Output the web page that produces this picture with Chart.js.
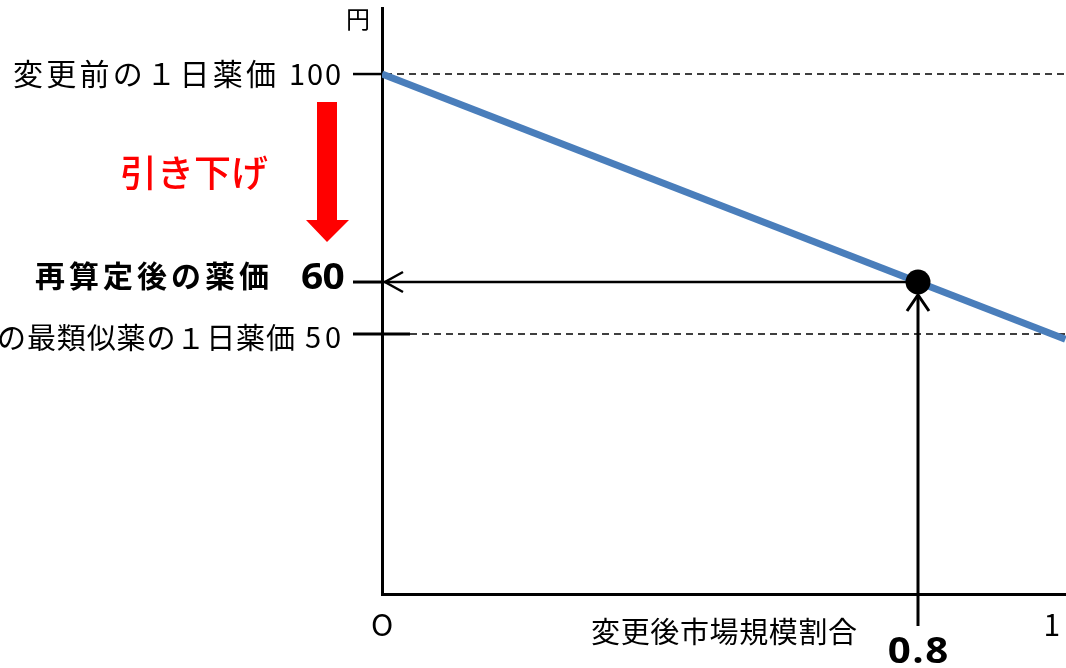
<!DOCTYPE html>
<html lang="ja">
<head>
<meta charset="utf-8">
<title>再算定後の薬価</title>
<script src="https://cdn.jsdelivr.net/npm/chart.js@4.4.1/dist/chart.umd.min.js"></script>
<style>
  html, body { margin: 0; padding: 0; background: #ffffff; overflow: hidden; }
  #wrap { position: relative; width: 1066px; height: 668px; }
</style>
</head>
<body>
<div id="wrap"><canvas id="c" width="1066" height="668"></canvas></div>
<script>
// ---- data ----
const shareValues = [0, 1.02];          // 変更後市場規模割合 (x)
const priceValues = [100, 49];          // 1日薬価 (y) along the line
const revisedShare = 0.8;               // marked share
const revisedPrice = 60;                // 再算定後の薬価
const priceBefore = 100;                // 変更前の1日薬価
const similarPrice = 50;                // 最類似薬の1日薬価
const xTickValues = [0, 1];
const xTickLabels = ['O', '1'];
const xRange = [0, 1.0209];
const yRange = [0, 112.7];

const JP = '"Noto Sans CJK JP", "Noto Sans", sans-serif';
const NUM_BOLD = '"Open Sans", Lato, sans-serif';

// draw text whose ink spans from left to right, vertically centred on cy;
// sx stretches each glyph horizontally
function drawFit(ctx, text, left, right, cy, font, color, sx) {
  sx = sx || 1;
  ctx.save();
  ctx.font = font;
  ctx.fillStyle = color;
  ctx.textAlign = 'left';
  ctx.textBaseline = 'alphabetic';
  const chars = Array.from(text);
  const whole = ctx.measureText(text);
  const base = cy + (whole.actualBoundingBoxAscent - whole.actualBoundingBoxDescent) / 2;
  const ms = chars.map(ch => ctx.measureText(ch));
  const first = ms[0], last = ms[ms.length - 1];
  let sumAdv = 0;
  for (let i = 0; i < ms.length - 1; i++) sumAdv += ms[i].width * sx;
  const natural = sumAdv + (last.actualBoundingBoxRight + first.actualBoundingBoxLeft) * sx;
  const gap = chars.length > 1 ? ((right - left) - natural) / (chars.length - 1) : 0;
  let x = left + first.actualBoundingBoxLeft * sx;
  chars.forEach((ch, i) => {
    ctx.save();
    ctx.translate(x, base);
    ctx.scale(sx, 1);
    ctx.fillText(ch, 0, 0);
    ctx.restore();
    x += ms[i].width * sx + gap;
  });
  ctx.restore();
}

function drawCentered(ctx, text, cx, cy, font, color) {
  ctx.save();
  ctx.font = font;
  ctx.fillStyle = color;
  ctx.textAlign = 'left';
  ctx.textBaseline = 'alphabetic';
  const m = ctx.measureText(text);
  const inkW = m.actualBoundingBoxLeft + m.actualBoundingBoxRight;
  const x = cx - inkW / 2 + m.actualBoundingBoxLeft;
  const base = cy + (m.actualBoundingBoxAscent - m.actualBoundingBoxDescent) / 2;
  ctx.fillText(text, x, base);
  ctx.restore();
}

function line(ctx, x1, y1, x2, y2, w, dash) {
  ctx.save();
  ctx.strokeStyle = '#000';
  ctx.lineWidth = w;
  ctx.setLineDash(dash || []);
  ctx.beginPath();
  ctx.moveTo(x1, y1);
  ctx.lineTo(x2, y2);
  ctx.stroke();
  ctx.restore();
}

const diagram = {
  id: 'diagram',
  beforeDatasetsDraw(chart) {
    const { ctx, chartArea, scales: { x, y } } = chart;
    const ax = x.getPixelForValue(0);
    const yTop = y.getPixelForValue(priceBefore);
    const yRev = y.getPixelForValue(revisedPrice);
    const ySim = y.getPixelForValue(similarPrice);
    const px = x.getPixelForValue(revisedShare);

    // reference lines
    line(ctx, ax - 29, yTop, ax, yTop, 2.5);
    line(ctx, ax + 3, yTop, chartArea.right, yTop, 1.5, [7, 5]);
    line(ctx, ax - 29, yRev, ax, yRev, 3);
    line(ctx, ax - 29, ySim, ax + 28, ySim, 3);
    line(ctx, ax + 28, ySim, chartArea.right, ySim, 1.5, [7, 5]);

    // arrow from the point to the price axis
    line(ctx, ax + 2, yRev, px, yRev, 2.5);
    ctx.save();
    ctx.strokeStyle = '#000';
    ctx.lineWidth = 2.5;
    ctx.beginPath();
    ctx.moveTo(ax + 21, yRev - 10);
    ctx.lineTo(ax + 3, yRev);
    ctx.lineTo(ax + 21, yRev + 10);
    ctx.stroke();
    ctx.restore();

    // arrow from the share axis up to the point
    const tipY = yRev + 13;
    line(ctx, px, 626, px, tipY, 3);
    ctx.save();
    ctx.strokeStyle = '#000';
    ctx.lineWidth = 3;
    ctx.beginPath();
    ctx.moveTo(px - 11, tipY + 16);
    ctx.lineTo(px, tipY);
    ctx.lineTo(px + 11, tipY + 16);
    ctx.stroke();
    ctx.restore();

    // red downward arrow (引き下げ)
    ctx.save();
    ctx.fillStyle = '#ff0000';
    ctx.beginPath();
    ctx.moveTo(317, 102);
    ctx.lineTo(337, 102);
    ctx.lineTo(337, 220);
    ctx.lineTo(349, 220);
    ctx.lineTo(327, 242);
    ctx.lineTo(306, 220);
    ctx.lineTo(317, 220);
    ctx.closePath();
    ctx.fill();
    ctx.restore();
  },
  afterDraw(chart) {
    const { ctx, scales: { x, y } } = chart;
    const yTop = y.getPixelForValue(priceBefore);
    const yRev = y.getPixelForValue(revisedPrice);
    const ySim = y.getPixelForValue(similarPrice);
    const px = x.getPixelForValue(revisedShare);

    drawFit(ctx, '円', 348, 366, 20, `24px ${JP}`, '#000');

    drawFit(ctx, '変更前の１日薬価', 14, 275, yTop, `30px ${JP}`, '#000');
    drawFit(ctx, String(priceBefore), 291, 340, yTop, `29px ${JP}`, '#000');

    drawFit(ctx, '引き下げ', 122, 268, 173, `500 37px ${JP}`, '#ff0000');

    drawFit(ctx, '再算定後の薬価', 35, 268, yRev - 6, `bold 30px ${JP}`, '#000');
    drawFit(ctx, String(revisedPrice), 302, 344, yRev - 6, `bold 36px ${NUM_BOLD}`, '#000', 1.08);

    drawFit(ctx, 'の最類似薬の１日薬価', -1, 294, ySim + 3, `29px ${JP}`, '#000');
    drawFit(ctx, String(similarPrice), 305, 340, ySim + 3, `29px ${JP}`, '#000');

    xTickValues.forEach((v, i) => {
      drawCentered(ctx, xTickLabels[i], x.getPixelForValue(v), 625, `30px ${JP}`, '#000');
    });

    drawFit(ctx, '変更後市場規模割合', 592, 857, 631, `29px ${JP}`, '#000');
    drawFit(ctx, String(revisedShare), px - 29, px + 29, 650, `bold 35px ${NUM_BOLD}`, '#000', 1.15);
  }
};

new Chart(document.getElementById('c'), {
  type: 'scatter',
  data: {
    datasets: [
      {
        data: shareValues.map((s, i) => ({ x: s, y: priceValues[i] })),
        showLine: true,
        borderColor: '#4a7ebb',
        borderWidth: 7,
        borderCapStyle: 'butt',
        pointRadius: 0,
        pointHoverRadius: 0,
        order: 2
      },
      {
        data: [{ x: revisedShare, y: revisedPrice }],
        pointRadius: 12.5,
        pointHoverRadius: 12.5,
        pointBackgroundColor: '#000',
        pointBorderWidth: 0,
        order: 1
      }
    ]
  },
  options: {
    responsive: false,
    animation: false,
    events: [],
    layout: { autoPadding: false, padding: { left: 382, top: 8, right: 0, bottom: 74 } },
    plugins: { legend: { display: false }, tooltip: { enabled: false } },
    scales: {
      x: {
        type: 'linear',
        min: xRange[0],
        max: xRange[1],
        grid: { display: false, drawTicks: false },
        ticks: { display: false },
        border: { display: true, color: '#000', width: 3 }
      },
      y: {
        type: 'linear',
        min: yRange[0],
        max: yRange[1],
        grid: { display: false, drawTicks: false },
        ticks: { display: false },
        border: { display: true, color: '#000', width: 3 }
      }
    }
  },
  plugins: [diagram]
});
</script>
</body>
</html>
